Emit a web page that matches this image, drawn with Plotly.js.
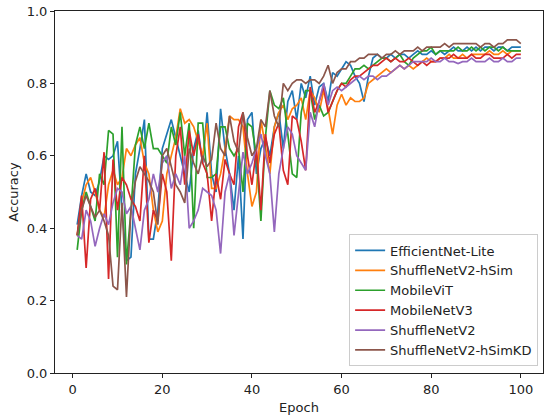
<!DOCTYPE html>
<html><head><meta charset="utf-8">
<script src="https://cdn.plot.ly/plotly-3.0.1.min.js"></script>
<style>html,body{margin:0;padding:0;background:#fff}#chart{width:550px;height:420px}</style>
</head><body><div id="chart"></div>
<script>
const seriesNames = ["EfficientNet-Lite","ShuffleNetV2-hSim","MobileViT","MobileNetV3","ShuffleNetV2","ShuffleNetV2-hSimKD"];
const seriesColors = ["#1f77b4","#ff7f0e","#2ca02c","#d62728","#9467bd","#8c564b"];
const xTicks = [0,20,40,60,80,100];
const yTicks = [0.0,0.2,0.4,0.6,0.8,1.0];

const efficientNetLite = [
0.41,0.49,0.55,0.50,0.49,0.53,0.60,0.59,0.60,0.64,
0.45,0.31,0.32,0.55,0.62,0.70,0.37,0.37,0.45,0.62,
0.66,0.70,0.65,0.60,0.55,0.50,0.62,0.67,0.58,0.72,
0.55,0.50,0.73,0.62,0.55,0.45,0.60,0.37,0.70,0.72,
0.55,0.62,0.65,0.60,0.68,0.72,0.62,0.75,0.78,0.70,
0.80,0.76,0.82,0.74,0.79,0.80,0.75,0.83,0.82,0.84,
0.86,0.85,0.82,0.80,0.75,0.82,0.87,0.88,0.87,0.87,
0.88,0.87,0.88,0.88,0.87,0.88,0.89,0.88,0.88,0.89,
0.88,0.89,0.88,0.89,0.90,0.89,0.89,0.90,0.89,0.90,
0.89,0.90,0.90,0.89,0.90,0.90,0.89,0.90,0.90,0.90];
const shuffleHSim = [
0.38,0.47,0.52,0.54,0.50,0.45,0.43,0.52,0.56,0.52,
0.54,0.62,0.60,0.63,0.65,0.58,0.55,0.45,0.39,0.42,
0.55,0.60,0.65,0.73,0.69,0.70,0.68,0.64,0.60,0.69,
0.51,0.51,0.55,0.62,0.71,0.70,0.70,0.68,0.55,0.46,
0.50,0.70,0.62,0.55,0.68,0.72,0.74,0.70,0.73,0.74,
0.76,0.70,0.78,0.76,0.72,0.78,0.73,0.66,0.74,0.77,
0.74,0.76,0.75,0.75,0.76,0.80,0.81,0.82,0.83,0.84,
0.83,0.84,0.85,0.84,0.85,0.84,0.85,0.86,0.87,0.86,
0.86,0.87,0.87,0.88,0.87,0.87,0.88,0.87,0.88,0.88,
0.88,0.88,0.89,0.88,0.88,0.89,0.88,0.89,0.89,0.89];
const mobileViT = [
0.34,0.45,0.50,0.46,0.42,0.55,0.52,0.67,0.66,0.32,
0.68,0.30,0.45,0.63,0.68,0.62,0.69,0.62,0.62,0.60,
0.58,0.68,0.63,0.72,0.60,0.69,0.40,0.69,0.69,0.54,
0.54,0.55,0.68,0.68,0.62,0.60,0.62,0.50,0.69,0.68,
0.60,0.42,0.65,0.78,0.74,0.73,0.76,0.66,0.55,0.54,
0.72,0.78,0.78,0.70,0.74,0.71,0.72,0.75,0.78,0.80,
0.80,0.82,0.84,0.84,0.85,0.84,0.85,0.86,0.87,0.87,
0.86,0.87,0.88,0.86,0.85,0.87,0.88,0.89,0.89,0.90,
0.88,0.89,0.89,0.89,0.89,0.90,0.89,0.89,0.90,0.89,
0.90,0.89,0.90,0.90,0.89,0.90,0.89,0.89,0.89,0.89];
const mobileNetV3 = [
0.38,0.49,0.29,0.48,0.51,0.45,0.61,0.26,0.59,0.45,
0.54,0.52,0.48,0.46,0.42,0.60,0.36,0.45,0.42,0.55,
0.50,0.31,0.60,0.68,0.52,0.67,0.60,0.66,0.58,0.55,
0.42,0.55,0.48,0.59,0.55,0.52,0.68,0.72,0.60,0.52,
0.62,0.45,0.66,0.58,0.66,0.69,0.56,0.52,0.71,0.70,
0.64,0.56,0.79,0.72,0.75,0.79,0.72,0.75,0.78,0.80,
0.79,0.81,0.82,0.82,0.83,0.84,0.85,0.85,0.86,0.87,
0.86,0.87,0.86,0.86,0.87,0.86,0.85,0.86,0.85,0.86,
0.86,0.87,0.87,0.87,0.88,0.87,0.87,0.87,0.88,0.87,
0.87,0.88,0.88,0.87,0.87,0.87,0.88,0.87,0.88,0.88];
const shuffleNetV2 = [
0.38,0.37,0.45,0.42,0.35,0.40,0.44,0.41,0.47,0.51,
0.50,0.44,0.46,0.40,0.34,0.45,0.48,0.55,0.50,0.58,
0.60,0.51,0.55,0.52,0.60,0.40,0.42,0.45,0.51,0.50,
0.49,0.45,0.33,0.50,0.55,0.38,0.50,0.61,0.55,0.58,
0.62,0.66,0.60,0.55,0.39,0.55,0.62,0.68,0.66,0.60,
0.58,0.56,0.72,0.68,0.75,0.80,0.74,0.78,0.79,0.78,
0.79,0.80,0.81,0.82,0.81,0.82,0.82,0.81,0.82,0.82,
0.83,0.84,0.85,0.84,0.85,0.86,0.86,0.86,0.86,0.87,
0.86,0.86,0.87,0.86,0.86,0.855,0.86,0.86,0.87,0.86,
0.86,0.86,0.87,0.86,0.86,0.87,0.86,0.86,0.87,0.87];
const shuffleHSimKD = [
0.38,0.45,0.49,0.46,0.43,0.45,0.42,0.38,0.24,0.23,
0.47,0.21,0.45,0.53,0.57,0.55,0.53,0.50,0.41,0.60,
0.62,0.57,0.52,0.50,0.47,0.62,0.58,0.55,0.60,0.57,
0.59,0.69,0.62,0.60,0.71,0.64,0.61,0.72,0.65,0.60,
0.62,0.70,0.68,0.78,0.71,0.68,0.80,0.78,0.80,0.81,
0.81,0.80,0.81,0.81,0.80,0.82,0.85,0.80,0.83,0.84,
0.84,0.86,0.86,0.87,0.87,0.88,0.88,0.88,0.87,0.88,
0.88,0.89,0.88,0.89,0.89,0.89,0.90,0.89,0.90,0.90,
0.90,0.90,0.91,0.90,0.91,0.91,0.91,0.91,0.91,0.91,
0.90,0.91,0.91,0.90,0.91,0.91,0.92,0.92,0.92,0.91];

const allSeries = [efficientNetLite, shuffleHSim, mobileViT, mobileNetV3, shuffleNetV2, shuffleHSimKD];
const epochs = efficientNetLite.map((_, i) => i + 1);

const traces = allSeries.map((vals, k) => ({
  x: epochs, y: vals, type: 'scatter', mode: 'lines', name: seriesNames[k],
  line: {color: seriesColors[k], width: 1.7}
}));

const font = {family: 'DejaVu Sans, sans-serif', size: 13, color: '#222'};
const layout = {
  width: 550, height: 420,
  margin: {l: 55, r: 7, t: 11, b: 47},
  paper_bgcolor: '#fff', plot_bgcolor: '#fff',
  font: font,
  showlegend: true,
  xaxis: {
    range: [-3.95, 104.95], tickvals: xTicks, ticktext: xTicks.map(String),
    ticks: 'outside', ticklen: 4, tickwidth: 1, tickcolor: '#222',
    showgrid: false, zeroline: false, showline: true, mirror: true,
    linecolor: '#222', linewidth: 1, tickfont: font,
    title: {text: 'Epoch', font: font, standoff: 7}
  },
  yaxis: {
    range: [0, 1], tickvals: yTicks, ticktext: yTicks.map(v => v.toFixed(1)),
    ticks: 'outside', ticklen: 4, tickwidth: 1, tickcolor: '#222',
    showgrid: false, zeroline: false, showline: true, mirror: true,
    linecolor: '#222', linewidth: 1, tickfont: font,
    title: {text: 'Accuracy', font: font, standoff: 5}
  },
  legend: {
    x: 0.99, y: 0.018, xanchor: 'right', yanchor: 'bottom',
    bgcolor: 'rgba(255,255,255,0.8)', bordercolor: '#cccccc', borderwidth: 1,
    font: {family: 'DejaVu Sans, sans-serif', size: 13, color: '#222'},
    tracegroupgap: 0, itemwidth: 30
  }
};
Plotly.newPlot('chart', traces, layout, {displayModeBar: false, staticPlot: true});
</script></body></html>
